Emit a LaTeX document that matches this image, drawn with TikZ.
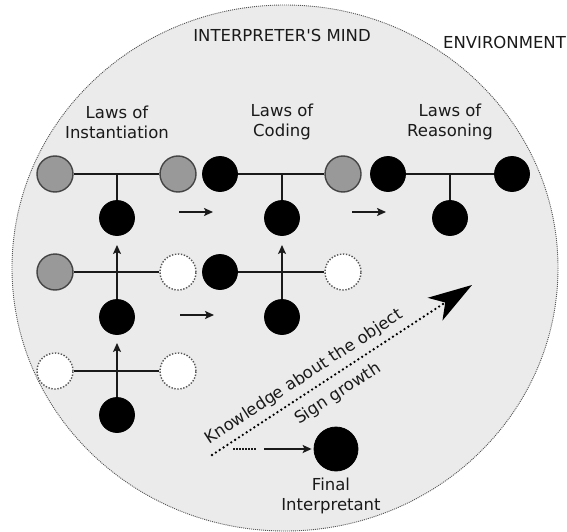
\documentclass[tikz,border=0pt]{standalone}
\usepackage{fontspec}
\setmainfont{DejaVu Sans}[Ligatures=TeXOff]
\usetikzlibrary{arrows.meta}
\definecolor{bg}{HTML}{EBEBEB}
\definecolor{midgray}{HTML}{999999}
\definecolor{rimgray}{HTML}{454545}
\definecolor{dotgray}{HTML}{555555}
\definecolor{linec}{HTML}{1A1A1A}
\definecolor{txt}{HTML}{1A1A1A}
\begin{document}
\begin{tikzpicture}[x=1pt,y=-1pt,
  every node/.style={font=\fontsize{16.5}{20}\selectfont, text=txt},
  grayc/.style={circle, minimum size=36pt, inner sep=0pt, fill=midgray, draw=rimgray, line width=1.4pt},
  blackc/.style={circle, minimum size=35pt, inner sep=0pt, fill=black, draw=black, line width=0.8pt},
  whitec/.style={circle, minimum size=36pt, inner sep=0pt, fill=white, draw=dotgray, line width=1.4pt, dash pattern=on 1.4pt off 1.6pt},
  conn/.style={line width=1.8pt, draw=linec},
  smallarrow/.style={line width=1.6pt, draw=linec, -{Stealth[length=9pt,width=8pt,inset=2pt]}},
  lab/.style={align=center}
]
\useasboundingbox (0,0) rectangle (567,532);
% mind
\path[fill=bg, draw=dotgray, line width=0.9pt, dash pattern=on 1pt off 1pt] (285,268) ellipse [x radius=273, y radius=263];

% labels
\node (mind) at (282,35) {INTERPRETER'S MIND};
\node (env) at (504.5,42) {ENVIRONMENT};
\node[lab] (l1) at (117,122) {Laws of\\Instantiation};
\node[lab] (l2) at (282,122) {Laws of\\Coding};
\node[lab] (l3) at (450,122) {Laws of\\Reasoning};

% group 1 row 1
\coordinate (j11) at (117,174);
\node[grayc] (a11) at (55,174) {};
\node[grayc] (b11) at (178,174) {};
\node[blackc] (c11) at (117,218) {};
% group 1 row 2
\coordinate (j12) at (117,272);
\node[grayc] (a12) at (55,272) {};
\node[whitec] (b12) at (178,272) {};
\node[blackc] (c12) at (117,317) {};
% group 1 row 3
\coordinate (j13) at (117,371);
\node[whitec] (a13) at (55,371) {};
\node[whitec] (b13) at (178,371) {};
\node[blackc] (c13) at (117,415) {};
% group 2 row 1
\coordinate (j21) at (282,174);
\node[blackc] (a21) at (220,174) {};
\node[grayc] (b21) at (343,174) {};
\node[blackc] (c21) at (282,218) {};
% group 2 row 2
\coordinate (j22) at (282,272);
\node[blackc] (a22) at (220,272) {};
\node[whitec] (b22) at (343,272) {};
\node[blackc] (c22) at (282,317) {};
% group 3 row 1
\coordinate (j31) at (450,174);
\node[blackc] (a31) at (388,174) {};
\node[blackc] (b31) at (512,174) {};
\node[blackc] (c31) at (450,218) {};

% tees
\foreach \g in {11,12,13,21,22,31}{
  \draw[conn] (a\g) -- (b\g);
  \draw[conn] (j\g) -- (c\g);
}

% up arrows
\coordinate (u12) at (117,245);
\coordinate (u13) at (117,343);
\coordinate (u22) at (282,245);
\draw[smallarrow] (j12) -- (u12);
\draw[smallarrow] (j13) -- (u13);
\draw[smallarrow] (j22) -- (u22);

% right arrows
\coordinate (r1s) at (179,212); \coordinate (r1e) at (213,212);
\coordinate (r2s) at (180,315); \coordinate (r2e) at (214,315);
\coordinate (r3s) at (352,212); \coordinate (r3e) at (386,212);
\draw[smallarrow] (r1s) -- (r1e);
\draw[smallarrow] (r2s) -- (r2e);
\draw[smallarrow] (r3s) -- (r3e);

% big dotted arrow
\coordinate (gs) at (212,455);
\coordinate (ge) at (472,285);
\draw[line width=2.6pt, draw=black, line cap=round, dash pattern=on 0pt off 4.6pt,
  -{Stealth[length=44pt,width=27pt,inset=12pt,line cap=butt,sep=0pt]}] (gs) -- (ge);
\node[rotate=33.2] (know) at (304,377) {Knowledge about the object};
\node[rotate=33.2] (sign) at (338,394) {Sign growth};

% final interpretant
\node[blackc, minimum size=44pt] (fin) at (336,449) {};
\coordinate (ds) at (233,449);
\coordinate (de) at (257,449);
\coordinate (fs) at (264,449);
\draw[line width=1.6pt, draw=linec, dash pattern=on 1.5pt off 1.5pt] (ds) -- (de);
\draw[smallarrow, shorten >=2pt] (fs) -- (fin);
\node[lab] (finlab) at (331,496) {Final\\Interpretant};
\end{tikzpicture}
\end{document}
